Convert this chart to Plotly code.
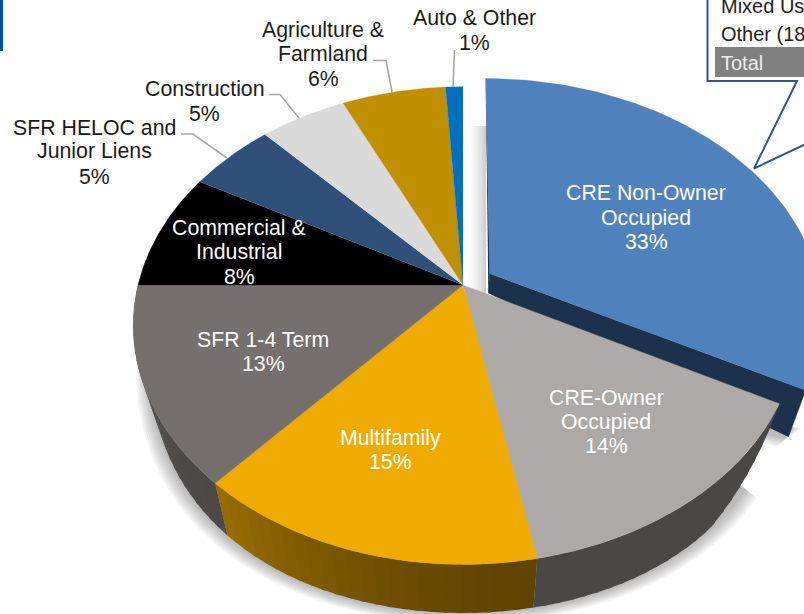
import numpy as np
import plotly.graph_objects as go

# ---- data (percent of portfolio) ----
categories = ["CRE Non-Owner Occupied", "CRE-Owner Occupied", "Multifamily", "SFR 1-4 Term",
              "Commercial & Industrial", "SFR HELOC and Junior Liens", "Construction",
              "Agriculture & Farmland", "Auto & Other"]
shares = [32.8, 14.2, 14.6, 13.4, 8.0, 5.0, 5.0, 6.0, 1.0]
top_colors = ["#4F81BD", "#ADA9A7", "#F0AB00", "#75706D", "#000000", "#2F5078", "#DADADA", "#C09000", "#0070C0"]
wall_left = ["#1C314B", "#4A4747", "#9A6E00", "#5E5A58", "#222222", "#222222", "#888888", "#665000", "#003A66"]
wall_right = ["#1C314B", "#4A4747", "#5E4400", "#4C4948", "#222222", "#222222", "#888888", "#665000", "#003A66"]

# label lines: (text lines, x, line y positions, colour)
label_lines = [
    (["CRE Non-Owner", "Occupied", "33%"], 646, [192.7, 217.7, 241.7], "white"),
    (["CRE-Owner", "Occupied", "14%"], 606, [397.7, 421.7, 445.7], "white"),
    (["Multifamily", "15%"], 390, [437.7, 461.7], "white"),
    (["SFR 1-4 Term", "13%"], 263, [339.7, 363.7], "white"),
    (["Commercial &", "Industrial", "8%"], 239, [227.5, 251.5, 276.5], "white"),
    (["SFR HELOC and", "Junior Liens", "5%"], 94, [127.5, 151, 176.5], "#1a1a1a"),
    (["Construction", "5%"], 204.5, [88.5, 113.5], "#1a1a1a"),
    (["Agriculture &", "Farmland", "6%"], 323, [29.5, 53.5, 78.5], "#1a1a1a"),
    (["Auto & Other", "1%"], 474, [17.5, 42.5], "#1a1a1a"),
]
leaders = [
    ([181, 193, 227], [134, 134, 158]),
    ([269, 280, 299], [94.5, 94.5, 118]),
    ([373, 386, 392], [60.5, 60.5, 92]),
    ([454.5, 453], [50, 87]),
]

# ---- projection of the tilted disc onto the page ----
CX, CY, RX, RX_LEFT, RY, K = 463.0, 285.0, 330.0, 325.0, 232.0, 0.17
LOW_X, LOW_CY, LOW_RY = 0.95, 308.0, 305.0
EXPLODE = 0.095


def top_xy(u, v):
    u = np.asarray(u, dtype=float)
    s = 1 / (1 + K * np.asarray(v))
    return CX + np.where(u > 0, RX, RX_LEFT) * u * s, CY - RY * np.asarray(v) * s


def low_xy(u, v):
    u = np.asarray(u, dtype=float)
    s = 1 / (1 + K * np.asarray(v))
    return CX + LOW_X * np.where(u > 0, RX, RX_LEFT) * u * s, LOW_CY - LOW_RY * np.asarray(v)


def arc(a0, a1, n=80):
    t = np.radians(np.linspace(a0, a1, n))
    return np.sin(t), np.cos(t)


def poly(fig, x, y, color, name=None, line=0.0):
    fig.add_trace(go.Scatter(x=list(x), y=list(y), mode="lines", fill="toself", fillcolor=color,
                             line=dict(color=color, width=line), hoverinfo="skip" if name is None else "name",
                             name=name or "", showlegend=False))


def mix(c0, c1, f):
    a = [int(c0[i:i + 2], 16) for i in (1, 3, 5)]
    b = [int(c1[i:i + 2], 16) for i in (1, 3, 5)]
    return "#%02X%02X%02X" % tuple(int(round(p + (q - p) * f)) for p, q in zip(a, b))


fig = go.Figure()
edges = np.concatenate([[0], np.cumsum(shares)]) * 3.6

# soft shadow below the pie
for j in range(8, 0, -1):
    u, v = arc(edges[1] + 8, 285, 120)
    lx, ly = low_xy(u, v)
    poly(fig, np.append(CX + (lx - CX) * (1 + 0.0055 * j), CX), np.append(ly + 1.3 * j, CY),
         "rgba(70,70,70,0.055)")

# shadow of the exploded slice on the gap
for j in range(12):
    poly(fig, [463 + 1.9 * j, 465.2 + 1.9 * j, 465.2 + 1.9 * j, 463 + 1.9 * j], [126, 126, 296, 296],
         mix("#FFFFFF", "#D0D0D0", (j / 11) ** 2))

# exploded slice: cut faces then top
a0, a1 = edges[0], edges[1]
du = EXPLODE * np.sin(np.radians((a0 + a1) / 2))
dv = EXPLODE * np.cos(np.radians((a0 + a1) / 2))
x_ap, y_ap = top_xy(du, dv)
lx_ap, ly_ap = low_xy(du, dv)
su, cu = np.sin(np.radians(a1)) + du, np.cos(np.radians(a1)) + dv
tx_c, ty_c = top_xy(su, cu)
lx_c, ly_c = low_xy(su, cu)
for j in range(6, 0, -1):
    poly(fig, [lx_c - 40, lx_c + 2 * j, lx_c - 2 * j, lx_c - 50],
         [ly_c - 25, ly_c - 8, ly_c + 1.6 * j, ly_c - 8 + 1.2 * j], "rgba(70,70,70,0.07)")
poly(fig, [x_ap, tx_c, lx_c, lx_ap], [y_ap, ty_c, ly_c, ly_ap], wall_left[0], line=0.5)
x0t, y0t = top_xy(du, 1 + dv)
poly(fig, [x0t, x_ap, lx_ap], [y0t, y_ap, ly_ap], wall_left[0], line=0.5)
u, v = arc(a0, a1)
tx, ty = top_xy(u + du, v + dv)
poly(fig, np.concatenate([[x_ap], tx]), np.concatenate([[y_ap], ty]), top_colors[0], name=categories[0], line=0.3)

# walls of the remaining slices (CRE-Owner tapers into its cut corner), then their tops
for i in range(1, 4):
    n = 24
    grid = np.linspace(edges[i], edges[i + 1], n + 1)
    for k in range(n):
        aa = np.linspace(grid[k], grid[k + 1], 5)
        u, v = arc(grid[k], grid[k + 1] + (0.6 if k < n - 1 else 0), 5)
        tx, ty = top_xy(u, v)
        lx, ly = low_xy(u, v)
        if i == 1:
            f = np.clip((aa - edges[1]) / 18.0, 0, 1) ** 0.5
            lx, ly = tx + (lx - tx) * f, ty + (ly - ty) * f
        c = mix(wall_right[i], wall_left[i], ((k + 0.5) / n) ** 1.5)
        poly(fig, np.concatenate([tx, lx[::-1]]), np.concatenate([ty, ly[::-1]]), c)

for i in range(1, len(shares)):
    u, v = arc(edges[i], edges[i + 1])
    tx, ty = top_xy(u, v)
    poly(fig, np.concatenate([[CX], tx]), np.concatenate([[CY], ty]), top_colors[i], name=categories[i], line=0.3)

# leader lines
for lx_, ly_ in leaders:
    fig.add_trace(go.Scatter(x=lx_, y=ly_, mode="lines", line=dict(color="#A6A6A6", width=1.6),
                             hoverinfo="skip", showlegend=False))

# left accent bar
fig.add_trace(go.Scatter(x=[0, 3, 3, 0], y=[0, 0, 51, 51], mode="lines", fill="toself", fillcolor="#0054A6",
                         line=dict(color="#0054A6", width=0), hoverinfo="skip", showlegend=False))

# callout box with table fragment
fig.add_trace(go.Scatter(x=[707.5, 707.5, 797, 754, 812, 812, 707.5], y=[-5, 81, 81, 168.5, 141, -5, -5],
                         mode="lines", fill="toself", fillcolor="white",
                         line=dict(color="#2F5597", width=2), hoverinfo="skip", showlegend=False))
fig.add_trace(go.Scatter(x=[715, 806, 806, 715], y=[47, 47, 77, 77], mode="lines", fill="toself",
                         fillcolor="#808080", line=dict(color="#808080", width=0), hoverinfo="skip",
                         showlegend=False))

annotations = []
for lines, x, ys, col in label_lines:
    for txt, y in zip(lines, ys):
        annotations.append(dict(x=x, y=y, text=txt, showarrow=False, xanchor="center", yanchor="middle",
                                font=dict(family="Liberation Sans", size=21.3, color=col)))
for txt, y, col in [("Mixed Use", 5.5, "#222222"), ("Other (18", 34, "#222222"), ("Total", 62.5, "#EDEDED")]:
    annotations.append(dict(x=718.5, y=y, text=txt, showarrow=False, xanchor="left", yanchor="middle",
                            font=dict(family="Liberation Sans", size=20, color=col)))

fig.update_layout(width=804, height=614, margin=dict(l=0, r=0, t=0, b=0), showlegend=False,
                  paper_bgcolor="white", plot_bgcolor="white", annotations=annotations,
                  xaxis=dict(range=[0, 804], visible=False, fixedrange=True),
                  yaxis=dict(range=[614, 0], visible=False, fixedrange=True))
fig.write_html("out.html", config={"displayModeBar": False}, post_script="document.body.style.margin='0';")
